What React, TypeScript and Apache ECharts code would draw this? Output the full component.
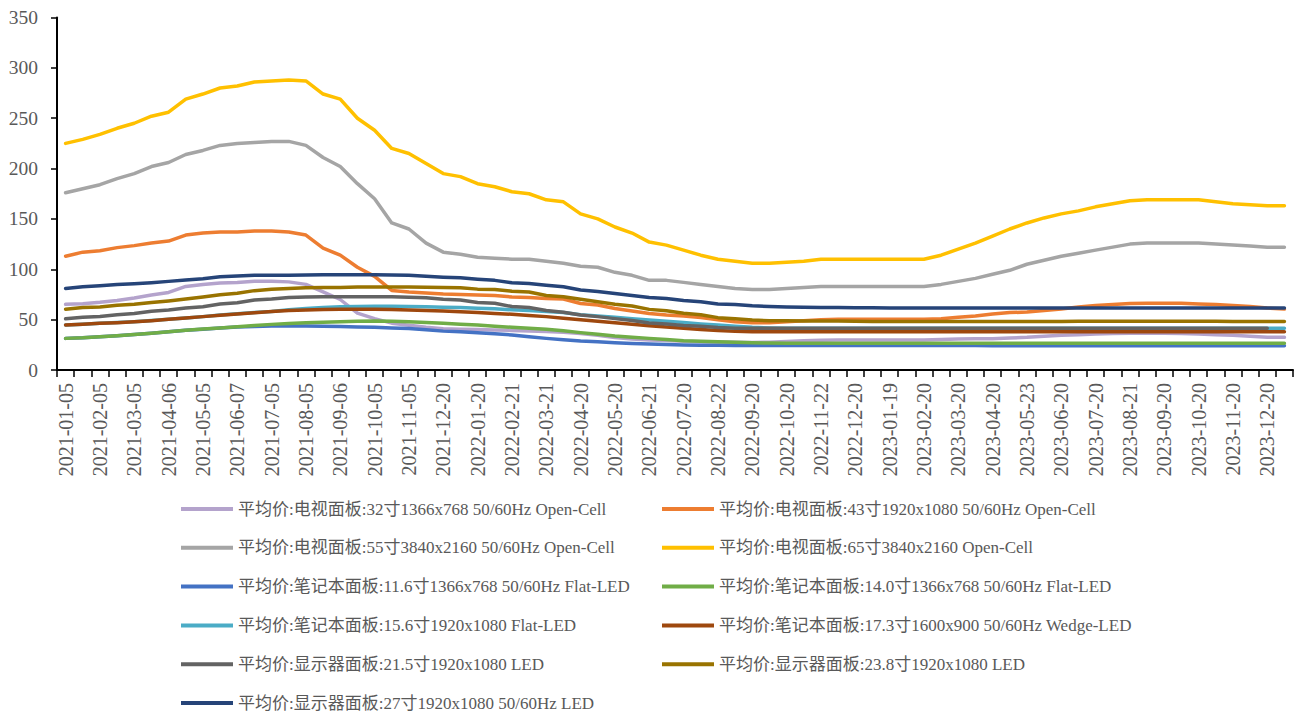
import React, { useEffect, useRef } from "react";
import * as echarts from "echarts";

const categories = [
  "2021-01-05","2021-01-20","2021-02-05","2021-02-20","2021-03-05","2021-03-22","2021-04-06","2021-04-20",
  "2021-05-05","2021-05-20","2021-06-07","2021-06-21","2021-07-05","2021-07-20","2021-08-05","2021-08-20",
  "2021-09-06","2021-09-22","2021-10-05","2021-10-20","2021-11-05","2021-12-06","2021-12-20","2022-01-05",
  "2022-01-20","2022-02-07","2022-02-21","2022-03-07","2022-03-21","2022-04-06","2022-04-20","2022-05-05",
  "2022-05-20","2022-06-06","2022-06-21","2022-07-05","2022-07-20","2022-08-05","2022-08-22","2022-09-05",
  "2022-09-20","2022-10-08","2022-10-20","2022-11-07","2022-11-22","2022-12-05","2022-12-20","2023-01-05",
  "2023-01-19","2023-02-06","2023-02-20","2023-03-06","2023-03-20","2023-04-06","2023-04-20","2023-05-06",
  "2023-05-23","2023-06-05","2023-06-20","2023-07-05","2023-07-20","2023-08-07","2023-08-21","2023-09-05",
  "2023-09-20","2023-10-08","2023-10-20","2023-11-06","2023-11-20","2023-12-05","2023-12-20","2024-01-05"
];

const tv32 = [65.2,65.8,67.2,69,71.5,74.5,77,83,85,86.5,87,88,88.2,87.5,85,77.5,70,56.5,51,46.5,44.5,42.5,41,40.5,
  40.2,39.8,39.3,38.8,38.2,37.6,36.2,34.5,32.3,30.8,29.8,29.2,28.5,28,27.7,27.5,27.4,27.6,28.2,29,29.6,29.8,29.8,29.8,
  29.8,29.8,29.8,30.2,30.8,31,31,31.8,32.4,33.4,34.4,35,35.7,36.2,36.4,36.4,36.4,36.2,35.7,35,34.4,33.4,32.6,32.4];
const tv43 = [113,117,118.5,121.5,123.5,126,128,134,136,137,137,138,138,137,134,121,114,102,93,79,77.5,76.5,75.5,75,
  74.5,74,72.5,72,71,70.5,66,64.5,61,58.5,56,54.6,53.6,52,50,48,47,47,48,49,50,50.3,50.3,50.3,
  50.3,50.3,50.5,51,52.3,53.6,55.6,57,57.5,59,60.5,62.5,64,65,66,66.2,66.2,66.2,65.5,65,64,63,61.5,60.5];
const tv55 = [176,180,184,190,195,202,206,214,218,223,225,226,227,227,223,211,202,185,170,146,140,126,117,115,
  112,111,110,110,108,106,103,102,97,94,89,89,87,85,83,81,80,80,81,82,83,83,83,83,
  83,83,83,85,88,91,95,99,105,109,113,116,119,122,125,126,126,126,126,125,124,123,122,122];
const tv65 = [225,229,234,240,245,252,256,269,274,280,282,286,287,288,287,274,269,250,238,220,215,205,195,192,
  185,182,177,175,169,167,155,150,142,136,127,124,119,114,110,108,106,106,107,108,110,110,110,110,
  110,110,110,114,120,126,133,140,146,151,155,158,162,165,168,169,169,169,169,167,165,164,163,163];
const nb116 = [31.4,32,33,34,35.2,36.5,38,39.4,40.5,41.6,42.6,43.3,43.8,43.8,43.7,43.5,43.2,42.8,42.5,41.8,41.2,40,38.6,38,
  37,36,34.8,33,31.4,30,28.8,28,27.1,26.4,25.8,25.3,24.8,24.6,24.5,24.4,24.4,24.3,24.3,24.3,24.3,24.3,24.3,24.3,
  24.3,24.3,24.3,24.3,24.3,24.3,24.2,24.2,24.2,24.2,24.2,24.2,24.2,24.2,24.2,24.2,24.2,24.2,24.2,24.2,24.2,24.2,24.2,24.2];
const nb140 = [31.4,32,33,34,35.2,36.5,38,39.4,40.7,41.8,43,44.2,45.3,46.2,47,47.5,48,48.3,48.6,48.5,48,47.2,46.3,45.5,
  44.7,43.5,42.4,41.4,40.4,39,37.1,35.5,33.8,32.5,31.4,30.2,29.1,28.6,28.1,27.6,27.1,26.8,26.5,26.5,26.5,26.5,26.5,26.5,
  26.5,26.5,26.5,26.5,26.5,26.5,26.5,26.5,26.5,26.5,26.5,26.5,26.5,26.5,26.5,26.5,26.5,26.5,26.5,26.5,26.5,26.5,26.5,26.5];
const nb156 = [44.8,45.5,46.3,47.2,48,49.2,50.3,51.6,53,54.5,55.8,57,58.2,59.8,61,62,62.7,63,63.3,63.3,63,62.8,62.4,62,
  61.3,60.8,59.8,59,58,57,54.8,53.6,52.4,51,49.6,48.5,47.1,45.8,44.7,43.5,42.4,41.8,41.5,41.4,41.4,41.4,41.4,41.4,
  41.4,41.4,41.4,41.4,41.4,41.4,41.4,41.4,41.4,41.4,41.4,41.4,41.4,41.4,41.4,41.4,41.4,41.4,41.4,41.4,41.4,41.4,41.4,41.4];
const nb173 = [44.7,45.5,46.3,47,48,49,50.3,51.6,53,54.3,55.6,56.8,58,59,59.6,60,60.2,60.2,60.2,60,59.6,59.2,58.6,57.8,
  57,56.2,55.3,54.2,53,51.4,49.8,48.4,47,45.5,44,42.8,41.4,40.2,39.1,38.5,38.1,38.1,38.1,38.1,38.1,38.1,38.1,38.1,
  38.1,38.1,38.1,38.1,38.1,38.1,38.1,38.1,38.1,38.1,38.1,38.1,38.1,38.1,38.1,38.1,38.1,38.1,38.1,38.1,38.1,38.1,38.1,38.1];
const mn215 = [50.8,52.3,53.2,54.9,56,58.3,59.6,61.6,62.9,65.5,66.8,69.5,70.5,72,72.5,72.8,72.8,72.8,72.8,72.7,72.2,71.8,70.2,69.5,
  67,66.2,63,62,59,57.3,54.6,53,51,49.2,46.6,45.7,44.3,43.4,42.2,41.5,41.4,41.4,41.4,41.4,41.4,41.4,41.4,41.4,
  41.4,41.4,41.4,41.4,41.4,41.4,41.4,41.4,41.4,41.4,41.4,41.4,41.4,41.4,41.4,41.4,41.4,41.4,41.4,41.4,41.4,41.4,41.4,null];
const mn238 = [60.4,62,62.6,64.3,65.4,67,68.6,70.5,72.5,74.8,76.3,78.8,80.2,81,81.7,81.8,82,82.4,82.5,82.5,82.4,82.2,82,81.7,
  80.3,80,78.2,77.5,74,72.8,70.2,67.8,65.2,63.5,60.2,58.9,56.3,54.9,52,51,49.6,49,49,48.7,48.7,48.6,48.3,48.2,
  48.2,48.2,48.2,48.2,48.2,48.2,48.2,48.2,48.2,48.2,48.2,48.3,48.3,48.4,48.4,48.4,48.4,48.4,48.4,48.3,48.2,48.2,48.1,48.1];
const mn27 = [81,82.7,83.7,85,85.7,86.7,88,89.4,90.7,92.6,93.3,94,94,94,94.4,94.5,94.5,94.5,94.5,94.4,94,93,92.2,91.6,
  90.2,89,86.7,86,84.2,82.7,79.4,78,76,74,72,71,69,67.8,65.5,65,63.7,63,62.5,62.3,62,62,61.8,61.7,
  61.6,61.6,61.6,61.6,61.6,61.6,61.6,61.6,61.6,61.6,61.6,61.6,61.6,61.6,61.6,61.6,61.6,61.6,61.6,61.6,61.6,61.6,61.6,61.6];

const seriesNames = [
  "平均价:电视面板:32寸1366x768 50/60Hz Open-Cell",
  "平均价:电视面板:43寸1920x1080 50/60Hz Open-Cell",
  "平均价:电视面板:55寸3840x2160 50/60Hz Open-Cell",
  "平均价:电视面板:65寸3840x2160 Open-Cell",
  "平均价:笔记本面板:11.6寸1366x768 50/60Hz Flat-LED",
  "平均价:笔记本面板:14.0寸1366x768 50/60Hz Flat-LED",
  "平均价:笔记本面板:15.6寸1920x1080 Flat-LED",
  "平均价:笔记本面板:17.3寸1600x900 50/60Hz Wedge-LED",
  "平均价:显示器面板:21.5寸1920x1080 LED",
  "平均价:显示器面板:23.8寸1920x1080 LED",
  "平均价:显示器面板:27寸1920x1080 50/60Hz LED",
];
const seriesData = [tv32, tv43, tv55, tv65, nb116, nb140, nb156, nb173, mn215, mn238, mn27];
const seriesColors = ["#B4A3CC", "#ED7D31", "#A5A5A5", "#FFC000", "#4472C4", "#70AD47", "#4BACC6", "#9E480E", "#636363", "#997300", "#264478"];

const yMin = 0, yMax = 350, yInterval = 50;

const FONT = "'Liberation Serif', 'Noto Sans CJK SC', serif";

export default function App() {
  const ref = useRef<HTMLDivElement>(null);
  useEffect(() => {
    if (!ref.current) return;
    const chart = echarts.init(ref.current, null, { renderer: "svg" });
    const legendText = { color: "#595959", fontSize: 17, fontFamily: FONT, lineHeight: 20 };
    const leftNames = seriesNames.filter((_, i) => i % 2 === 0);
    const rightNames = seriesNames.filter((_, i) => i % 2 === 1);
    const legendBase = {
      top: 499, orient: "vertical", icon: "rect", itemWidth: 52, itemHeight: 4, itemGap: 18.8,
      padding: 0, height: 260, width: 480, textStyle: legendText, selectedMode: false,
    };
    chart.setOption({
      animation: false,
      grid: { left: 57, right: 7, top: 17.5, bottom: 341, containLabel: false },
      legend: [
        { ...legendBase, data: leftNames, left: 181 },
        { ...legendBase, data: rightNames, left: 662 },
      ],
      xAxis: {
        type: "category",
        data: categories,
        boundaryGap: true,
        axisLine: { lineStyle: { color: "#000", width: 2 } },
        axisTick: { show: true, interval: 0, length: 7, lineStyle: { color: "#000", width: 1.5 } },
        axisLabel: { interval: 1, rotate: 90, margin: 13, color: "#595959", fontSize: 20, fontFamily: FONT },
        splitLine: { show: false },
      },
      yAxis: {
        type: "value",
        min: yMin,
        max: yMax,
        interval: yInterval,
        axisLine: { show: true, lineStyle: { color: "#000", width: 2 } },
        axisTick: { show: true, length: 6, lineStyle: { color: "#000", width: 1.5 } },
        axisLabel: { margin: 19, color: "#595959", fontSize: 19.5, fontFamily: FONT },
        splitLine: { show: false },
      },
      series: seriesNames.map((name, i) => ({
        name,
        type: "line",
        data: seriesData[i],
        symbol: "none",
        smooth: false,
        connectNulls: false,
        itemStyle: { color: seriesColors[i] },
        lineStyle: { color: seriesColors[i], width: 3.5, cap: "round", join: "round" },
      })),
    });
    return () => chart.dispose();
  }, []);
  return (
    <div
      ref={ref}
      style={{ position: "fixed", left: 0, top: 0, width: 1300, height: 711, overflow: "hidden", background: "#fff" }}
    />
  );
}
